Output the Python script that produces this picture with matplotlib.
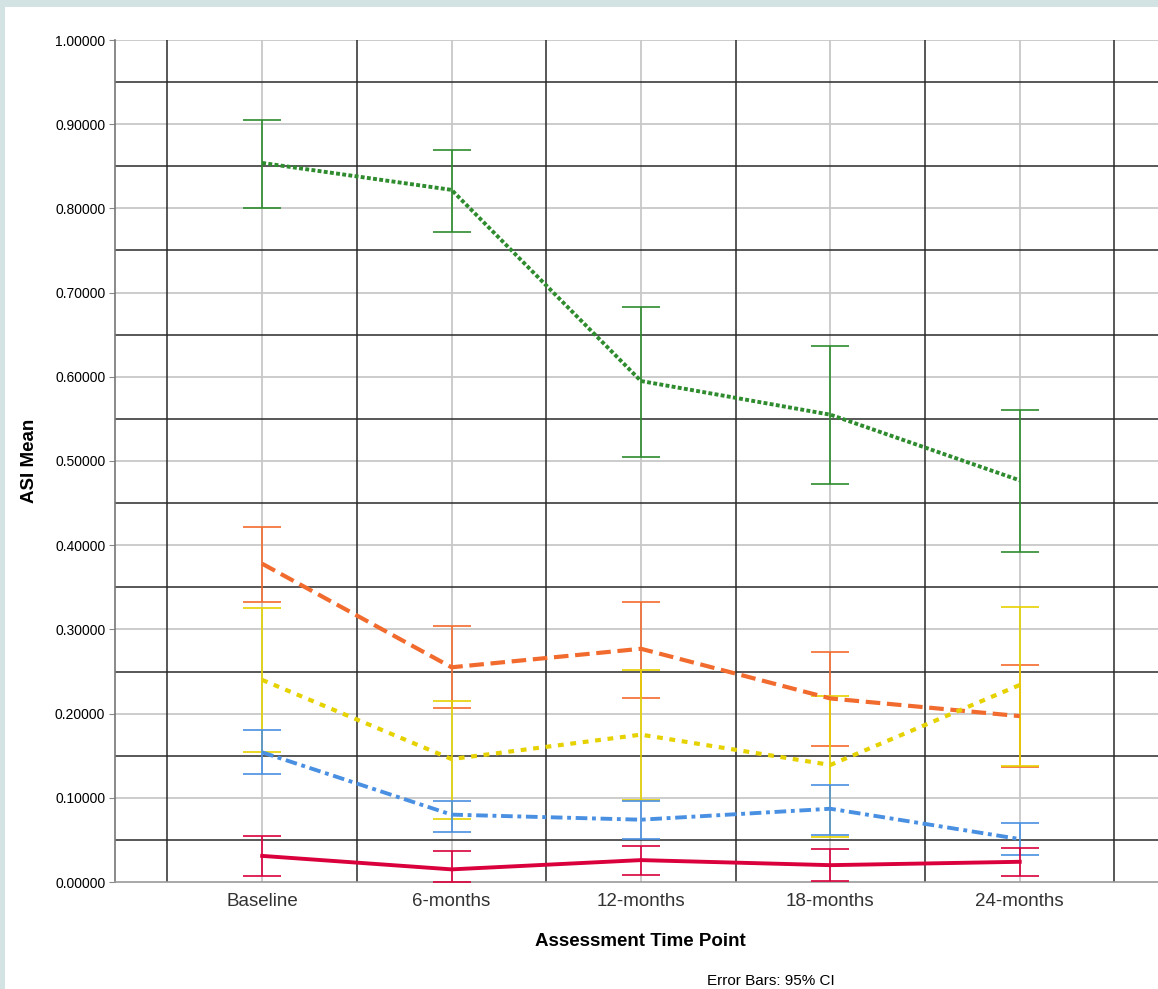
"""
ASI mean by assessment time point, error bars 95% CI
"""

import numpy as np
import matplotlib.pyplot as plt
from matplotlib.patches import Rectangle

plt.rcParams['font.family'] = ['Liberation Sans', 'DejaVu Sans']

# time points
time_points = ['Baseline', '6-months', '12-months', '18-months', '24-months']

# means and CI bounds for each group
green_mean = [0.854, 0.822, 0.595, 0.555, 0.477]
green_low = [0.800, 0.772, 0.505, 0.473, 0.392]
green_high = [0.905, 0.869, 0.683, 0.637, 0.561]

orange_mean = [0.378, 0.255, 0.277, 0.218, 0.197]
orange_low = [0.333, 0.207, 0.218, 0.162, 0.137]
orange_high = [0.422, 0.304, 0.333, 0.273, 0.258]

yellow_mean = [0.240, 0.146, 0.175, 0.139, 0.234]
yellow_low = [0.154, 0.075, 0.097, 0.053, 0.138]
yellow_high = [0.325, 0.215, 0.252, 0.221, 0.327]

blue_mean = [0.154, 0.080, 0.074, 0.087, 0.051]
blue_low = [0.128, 0.059, 0.051, 0.056, 0.032]
blue_high = [0.180, 0.096, 0.096, 0.115, 0.070]

red_mean = [0.031, 0.015, 0.026, 0.020, 0.024]
red_low = [0.007, 0.000, 0.008, 0.001, 0.007]
red_high = [0.055, 0.037, 0.043, 0.039, 0.040]

y_ticks = [0.0, 0.1, 0.2, 0.3, 0.4, 0.5, 0.6, 0.7, 0.8, 0.9, 1.0]

series = [
    (green_mean, green_low, green_high, '#2E8B2E', (0, (1, 0.6)), 2.8),
    (orange_mean, orange_low, orange_high, '#F26B2E', (0, (3.5, 1.6)), 3.0),
    (yellow_mean, yellow_low, yellow_high, '#E6D200', (0, (1.4, 1.6)), 3.0),
    (blue_mean, blue_low, blue_high, '#4A90E2', (0, (3, 1.2, 1, 1.2)), 2.8),
    (red_mean, red_low, red_high, '#D9003C', '-', 2.8),
]

fig = plt.figure(figsize=(11.58, 9.89), dpi=100)
fig.patch.set_facecolor('#D3E3E3')
fig.add_artist(Rectangle((5 / 1158, 0), 1, 1 - 7 / 989,
                         transform=fig.transFigure, facecolor='white',
                         edgecolor='none', zorder=0))

ax = fig.add_axes([115 / 1158, 1 - 882 / 989, 1 - 115 / 1158, (882 - 40) / 989])
ax.set_facecolor('white')

x = np.arange(len(time_points))

# grid: gray at ticks, black in between
for v in y_ticks[1:]:
    ax.axhline(v, color='#C8C8C8', lw=1.3, zorder=1)
for v in np.arange(0.05, 1.0, 0.1):
    ax.axhline(v, color='#2A2A2A', lw=1.1, zorder=1.5)
for xi in x:
    ax.axvline(xi, color='#C8C8C8', lw=1.3, zorder=1)
for xi in np.arange(-0.5, len(time_points), 1.0):
    ax.axvline(xi, color='#2A2A2A', lw=1.1, zorder=1.5)

for mean, low, high, color, ls, lw in series:
    mean = np.array(mean)
    yerr = [mean - np.array(low), np.array(high) - mean]
    ax.errorbar(x, mean, yerr=yerr, fmt='none', ecolor=color,
                elinewidth=1.2, capsize=13.5, capthick=1.2, zorder=3)
    ax.plot(x, mean, color=color, linestyle=ls, lw=lw, zorder=4)

ax.set_xlim(-0.777, 4.73)
ax.set_ylim(0, 1.0)
ax.set_yticks(y_ticks)
ax.set_yticklabels([f'{v:.5f}' for v in y_ticks], fontsize=10)
ax.set_xticks(x)
ax.set_xticklabels(time_points, fontsize=13.5, color='#333333')
ax.tick_params(axis='x', length=0, pad=8)
ax.tick_params(axis='y', length=4, color='#888888', pad=3)

for side in ['top', 'right']:
    ax.spines[side].set_visible(False)
ax.spines['left'].set_color('#777777')
ax.spines['bottom'].set_color('#999999')
ax.spines['left'].set_linewidth(1.2)
ax.spines['bottom'].set_linewidth(1.2)

fig.text(30 / 1158, 1 - 461 / 989, 'ASI Mean', rotation=90, fontsize=13.5,
         fontweight='bold', ha='center', va='center')
fig.text(640 / 1158, 1 - 941 / 989, 'Assessment Time Point', fontsize=13.5,
         fontweight='bold', ha='center', va='center')
fig.text(707 / 1158, 1 - 981 / 989, 'Error Bars: 95% CI', fontsize=11,
         ha='left', va='center')

plt.savefig('out.png', dpi=100)
plt.close()
